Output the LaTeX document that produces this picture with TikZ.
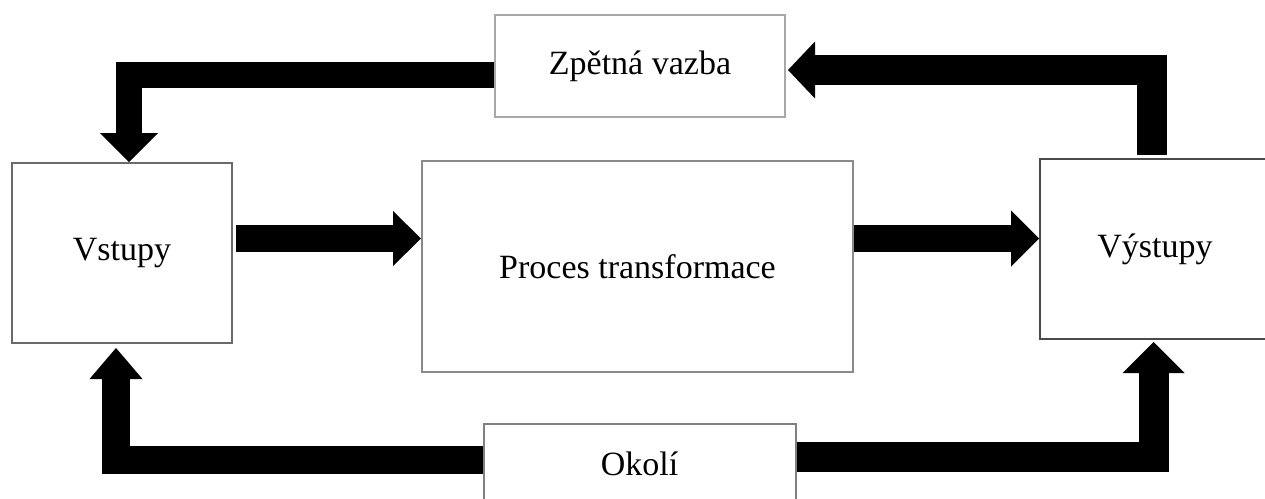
\documentclass[tikz,border=0pt]{standalone}
\usepackage{fontspec}
\setmainfont{Liberation Serif}
\usetikzlibrary{arrows.meta}
\definecolor{edgeA}{HTML}{A8A8A8}
\definecolor{edgeB}{HTML}{6A6A6A}
\definecolor{edgeC}{HTML}{8A8A8A}
\definecolor{edgeD}{HTML}{4A4A4A}
\definecolor{edgeE}{HTML}{808080}
\begin{document}
\begin{tikzpicture}[x=1pt,y=-1pt,
  box/.style={draw, line width=2pt, fill=white, inner sep=0pt,
    font=\fontsize{34}{40}\selectfont},
  blockarrow/.style n args={3}{draw=black, line width=#1, line join=miter,
    line cap=butt, -{Triangle[length=#2, width=#3, line width=0pt]}}
]
\useasboundingbox (0,0) rectangle (1265,498);
\clip (0,0) rectangle (1265,498);

% boxes
\node[box, draw=edgeA, minimum width=290pt, minimum height=102pt] (zv) at (640,66) {Zpětná vazba};
\node[box, draw=edgeB, minimum width=220pt, minimum height=180pt] (vs) at (122,253) {Vstupy};
\node[box, draw=edgeC, minimum width=431pt, minimum height=211pt] (pt) at (637.5,266.5) {Proces transformace};
\node[box, draw=edgeD, minimum width=230pt, minimum height=180pt] (vo) at (1155,249) {Výstupy};
\node[box, draw=edgeE, minimum width=312pt, minimum height=80pt] (ok) at (639.5,464) {Okolí};

% main flow row
\coordinate (row) at (0,238.5);
\draw[blockarrow={27pt}{28pt}{55pt}, shorten <=3pt] (vs.east |- row) -- (pt.west |- row);
\draw[blockarrow={27pt}{28pt}{56pt}] (pt.east |- row) -- (vo.west |- row);

% feedback loop
\draw[blockarrow={30pt}{27pt}{57pt}, shorten >=2pt]
  ([xshift=-3.5pt,yshift=3pt]vo.north) |- ([yshift=-4pt]zv.east);
\draw[blockarrow={26pt}{29pt}{58pt}]
  ([yshift=-8.5pt]zv.west) -| ([xshift=7pt]vs.north);

% environment
\draw[blockarrow={28pt}{31pt}{53pt}, shorten >=4pt]
  ([yshift=4.5pt]ok.west) -| ([xshift=-6pt]vs.south);
\draw[blockarrow={30pt}{31pt}{62pt}, shorten >=2pt]
  ([yshift=7.5pt]ok.east) -| ([xshift=-1.5pt]vo.south);
\end{tikzpicture}
\end{document}
